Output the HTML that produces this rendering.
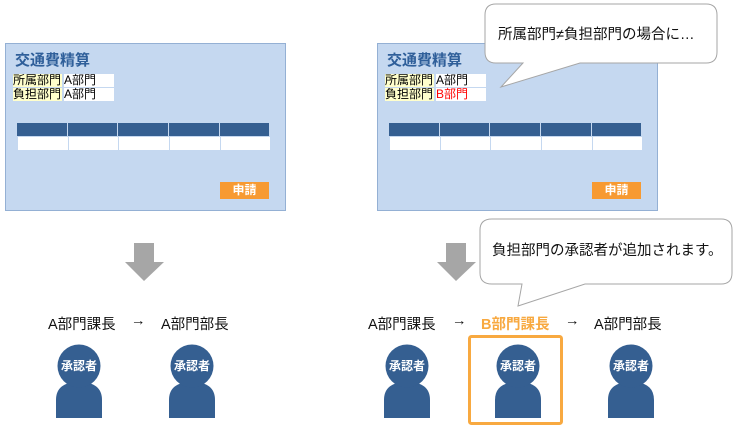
<!DOCTYPE html>
<html><head><meta charset="utf-8"><style>
body{margin:0;width:741px;height:434px;background:#fff;position:relative;overflow:hidden;font-family:"Liberation Sans","Noto Sans CJK JP",sans-serif}
.a{position:absolute}
.panel{position:absolute;top:43px;width:279px;height:166px;background:#C5D8F0;border:1px solid #94B0D4}
.title{position:absolute;left:9px;top:5px;font-size:15px;font-weight:bold;color:#2F5F9A}
.lab{position:absolute;left:7px;width:49px;height:13px;background:#FFFFCC;font-size:12px;line-height:13px;color:#000;white-space:nowrap;overflow:hidden}
.val{position:absolute;left:58px;width:50px;height:13px;background:#fff;font-size:12px;line-height:13px;color:#000}
.th{position:absolute;top:79px;height:13px;background:#355F91}
.td{position:absolute;top:93px;height:13px;background:#fff}
.btn{position:absolute;left:214px;top:138px;width:49px;height:17px;background:#F79A32;color:#fff;font-weight:bold;font-size:12px;line-height:17px;text-align:center}
.t{position:absolute;font-size:14.5px;color:#111;white-space:nowrap}
</style></head><body>
<div class="panel" style="left:5px">
<div class="title">交通費精算</div>
<div class="lab" style="top:30px">所属部門</div><div class="val" style="top:30px">A部門</div>
<div class="lab" style="top:44px">負担部門</div><div class="val" style="top:44px">A部門</div>
<div class="th" style="left:11px;width:50px"></div><div class="th" style="left:62px;width:49px"></div><div class="th" style="left:112px;width:50px"></div><div class="th" style="left:163px;width:50px"></div><div class="th" style="left:214px;width:49px"></div>
<div class="td" style="left:12px;width:50px"></div><div class="td" style="left:63px;width:49px"></div><div class="td" style="left:113px;width:50px"></div><div class="td" style="left:164px;width:50px"></div><div class="td" style="left:215px;width:49px"></div>
<div class="btn">申請</div>
</div>
<div class="panel" style="left:377px">
<div class="title">交通費精算</div>
<div class="lab" style="top:30px">所属部門</div><div class="val" style="top:30px">A部門</div>
<div class="lab" style="top:44px">負担部門</div><div class="val" style="top:44px;color:#F00">B部門</div>
<div class="th" style="left:11px;width:50px"></div><div class="th" style="left:62px;width:49px"></div><div class="th" style="left:112px;width:50px"></div><div class="th" style="left:163px;width:50px"></div><div class="th" style="left:214px;width:49px"></div>
<div class="td" style="left:12px;width:50px"></div><div class="td" style="left:63px;width:49px"></div><div class="td" style="left:113px;width:50px"></div><div class="td" style="left:164px;width:50px"></div><div class="td" style="left:215px;width:49px"></div>
<div class="btn">申請</div>
</div>
<svg class="a" style="left:0;top:0" width="741" height="434">
<path d="M134 243H154V262H164L144 281L125 262H134Z" fill="#A6A6A6"/>
<path d="M446 243H466V262H476L456 281L437 262H446Z" fill="#A6A6A6"/>
<path d="M496 4H706Q717 4 717 15V52Q717 63 706 63H580L501 87L523 63H496Q485 63 485 52V15Q485 4 496 4Z" fill="#fff" stroke="#A6A6A6" stroke-width="1"/>
<path d="M492 219H721Q732 219 732 230V273Q732 284 721 284H585L518 306L522 284H492Q480 284 480 273V230Q480 219 492 219Z" fill="#fff" stroke="#A6A6A6" stroke-width="1"/>
<rect x="469.5" y="336.5" width="92" height="87" fill="none" stroke="#F8A940" stroke-width="3" rx="2"/>
<g fill="#355F91">
<g id="p"><path d="M56 418V400Q56 382 79 382Q102 382 102 400V418Z"/><circle cx="79" cy="366" r="21.5"/></g>
<use href="#p" x="113"/><use href="#p" x="328"/><use href="#p" x="439"/><use href="#p" x="552"/>
</g>
<g fill="#fff" font-size="12" font-weight="bold" text-anchor="middle" font-family="Liberation Sans,Noto Sans CJK JP,sans-serif">
<text x="79" y="370">承認者</text><text x="192" y="370">承認者</text><text x="407" y="370">承認者</text><text x="518" y="370">承認者</text><text x="631" y="370">承認者</text>
</g>
</svg>
<div class="t" style="left:498px;top:23px">所属部門≠負担部門の場合に…</div>
<div class="t" style="left:492px;top:239px">負担部門の承認者が追加されます。</div>
<div class="t" style="left:48px;top:313px">A部門課長</div>
<div class="t" style="left:131px;top:313px">→</div>
<div class="t" style="left:161px;top:313px">A部門部長</div>
<div class="t" style="left:368px;top:313px">A部門課長</div>
<div class="t" style="left:452px;top:313px">→</div>
<div class="t" style="left:481px;top:313px;color:#F8A940;font-weight:bold">B部門課長</div>
<div class="t" style="left:565px;top:313px">→</div>
<div class="t" style="left:594px;top:313px">A部門部長</div>
</body></html>
